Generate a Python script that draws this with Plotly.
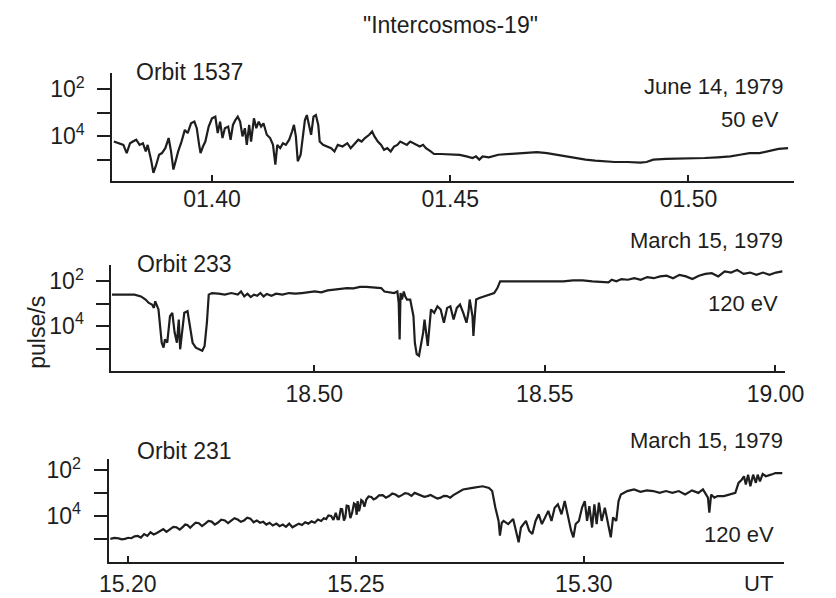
import plotly.graph_objects as go

FONT = "Liberation Sans, Arial, Helvetica, sans-serif"
INK = "#1e1e1e"

# ---------------- data ----------------
# time: minutes after the hour (UT); value: count level in tick units
# (tick 4 = 10^2, tick 2 = 10^4 as printed on the original)

orbit1537 = [  # June 14, 1979, 50 eV, minutes after 01:00
    (37.94, 1.77), (38.04, 1.70), (38.14, 1.63), (38.21, 1.28), (38.28, 1.70), (38.34, 1.77),
    (38.41, 1.85), (38.48, 1.63), (38.55, 1.70), (38.61, 1.35), (38.65, 1.63), (38.72, 1.00),
    (38.77, 0.44), (38.82, 0.72), (38.89, 1.21), (38.95, 1.28), (39.02, 1.49), (39.09, 1.92),
    (39.14, 1.35), (39.19, 0.58), (39.24, 1.00), (39.29, 1.35), (39.36, 1.77), (39.43, 2.27),
    (39.49, 2.13), (39.56, 2.55), (39.63, 2.62), (39.68, 2.34), (39.73, 1.63), (39.76, 1.28),
    (39.81, 1.56), (39.86, 1.77), (39.93, 2.41), (40.00, 2.76), (40.07, 2.83), (40.12, 2.13),
    (40.17, 2.62), (40.22, 1.92), (40.27, 2.34), (40.34, 2.41), (40.39, 1.85), (40.44, 2.48),
    (40.49, 2.69), (40.54, 2.83), (40.59, 2.62), (40.64, 1.99), (40.69, 2.34), (40.73, 1.63),
    (40.78, 2.48), (40.82, 1.77), (40.88, 2.76), (40.93, 2.34), (40.98, 2.62), (41.03, 2.41),
    (41.08, 2.55), (41.15, 2.06), (41.22, 1.92), (41.28, 1.63), (41.33, 0.79), (41.37, 1.63),
    (41.43, 1.49), (41.49, 1.70), (41.55, 1.63), (41.62, 1.85), (41.68, 2.20), (41.72, 2.48),
    (41.76, 1.99), (41.80, 0.93), (41.86, 1.21), (41.91, 2.06), (41.95, 2.69), (41.99, 2.90),
    (42.04, 2.48), (42.08, 2.06), (42.13, 2.83), (42.18, 2.90), (42.23, 2.48), (42.26, 1.77),
    (42.33, 1.63), (42.40, 1.56), (42.50, 1.49), (42.57, 1.35), (42.64, 1.63), (42.74, 1.56),
    (42.84, 1.70), (42.91, 1.49), (42.97, 1.63), (43.07, 1.85), (43.14, 1.77), (43.21, 1.92),
    (43.30, 2.06), (43.36, 2.20), (43.41, 1.99), (43.48, 1.77), (43.55, 1.63), (43.61, 1.42),
    (43.68, 1.49), (43.75, 1.35), (43.82, 1.56), (43.89, 1.63), (43.95, 1.77), (44.02, 1.70),
    (44.09, 1.63), (44.16, 1.77), (44.22, 1.70), (44.29, 1.63), (44.36, 1.56), (44.43, 1.63),
    (44.49, 1.49), (44.59, 1.35), (44.66, 1.24), (44.80, 1.24), (44.93, 1.22), (45.07, 1.20),
    (45.20, 1.20), (45.34, 1.14), (45.47, 1.07), (45.54, 1.14), (45.61, 1.00), (45.68, 1.14),
    (45.81, 1.10), (46.01, 1.21), (46.22, 1.24), (46.42, 1.28), (46.62, 1.28), (46.82, 1.32),
    (47.03, 1.28), (47.23, 1.21), (47.43, 1.14), (47.64, 1.07), (47.84, 1.00), (48.04, 0.96),
    (48.24, 0.93), (48.45, 0.90), (48.72, 0.90), (48.99, 0.87), (49.12, 0.90), (49.26, 1.00),
    (49.53, 1.03), (49.80, 1.04), (50.07, 1.04), (50.34, 1.07), (50.61, 1.10), (50.88, 1.14),
    (51.08, 1.21), (51.28, 1.28), (51.49, 1.28), (51.69, 1.38), (51.89, 1.46), (52.09, 1.49),
]

orbit233 = [  # March 15, 1979, 120 eV, minutes after 18:00
    (45.61, 3.40), (46.10, 3.40), (46.24, 3.32), (46.34, 3.18), (46.41, 3.03), (46.48, 2.96),
    (46.52, 2.81), (46.55, 3.10), (46.62, 2.74), (46.66, 1.85), (46.69, 1.26), (46.73, 1.04),
    (46.76, 1.41), (46.81, 1.26), (46.87, 2.44), (46.92, 2.59), (46.97, 1.71), (47.02, 1.26),
    (47.06, 2.29), (47.09, 0.97), (47.13, 1.85), (47.18, 2.59), (47.25, 2.66), (47.30, 2.00),
    (47.36, 1.26), (47.43, 1.04), (47.50, 0.97), (47.57, 0.90), (47.62, 1.12), (47.67, 2.15),
    (47.71, 3.40), (47.78, 3.47), (47.92, 3.44), (48.06, 3.40), (48.20, 3.47), (48.34, 3.40),
    (48.41, 3.54), (48.48, 3.32), (48.55, 3.44), (48.62, 3.29), (48.69, 3.40), (48.76, 3.35),
    (48.83, 3.47), (48.90, 3.32), (48.97, 3.43), (49.07, 3.35), (49.17, 3.44), (49.31, 3.40),
    (49.45, 3.47), (49.59, 3.44), (49.73, 3.47), (49.87, 3.50), (50.01, 3.54), (50.15, 3.50),
    (50.29, 3.59), (50.43, 3.62), (50.57, 3.65), (50.71, 3.69), (50.85, 3.68), (50.99, 3.74),
    (51.13, 3.74), (51.27, 3.72), (51.45, 3.69), (51.52, 3.54), (51.62, 3.50), (51.73, 3.47),
    (51.80, 3.54), (51.83, 3.03), (51.85, 1.41), (51.87, 3.47), (51.90, 3.18), (51.94, 3.54),
    (51.97, 3.32), (52.01, 3.18), (52.08, 3.18), (52.15, 2.44), (52.18, 1.26), (52.22, 0.75),
    (52.27, 0.68), (52.31, 1.12), (52.36, 1.71), (52.39, 2.29), (52.43, 1.71), (52.46, 1.12),
    (52.53, 2.74), (52.60, 2.59), (52.67, 2.88), (52.74, 2.74), (52.81, 2.15), (52.88, 2.81),
    (52.95, 2.88), (53.02, 2.29), (53.09, 2.81), (53.16, 2.96), (53.23, 2.59), (53.30, 2.15),
    (53.34, 2.59), (53.37, 3.18), (53.43, 2.44), (53.45, 1.56), (53.48, 2.44), (53.51, 3.18),
    (53.58, 3.25), (53.69, 3.32), (53.79, 3.40), (53.90, 3.47), (53.97, 3.69), (54.03, 3.99),
    (54.14, 3.99), (54.35, 3.99), (54.56, 3.99), (54.77, 4.01), (54.98, 3.99), (55.19, 4.01),
    (55.40, 3.99), (55.61, 4.03), (55.82, 4.03), (56.03, 3.99), (56.24, 3.94), (56.38, 3.94),
    (56.45, 4.06), (56.55, 3.99), (56.66, 4.09), (56.80, 4.06), (56.94, 4.13), (57.08, 4.06),
    (57.22, 4.18), (57.36, 4.13), (57.50, 4.21), (57.64, 4.24), (57.78, 4.13), (57.92, 4.28),
    (58.06, 4.21), (58.20, 4.09), (58.34, 4.24), (58.48, 4.32), (58.62, 4.35), (58.76, 4.21),
    (58.90, 4.43), (59.04, 4.38), (59.17, 4.50), (59.31, 4.32), (59.45, 4.38), (59.59, 4.28),
    (59.73, 4.38), (59.87, 4.28), (60.01, 4.38), (60.15, 4.43),
]

orbit231 = [  # March 15, 1979, 120 eV, minutes after 15:00
    (19.62, 0.99), (19.71, 1.03), (19.80, 1.01), (19.87, 0.97), (19.94, 0.99), (20.01, 1.04),
    (20.08, 1.02), (20.15, 1.10), (20.22, 1.12), (20.29, 1.05), (20.36, 1.20), (20.43, 1.12),
    (20.50, 1.28), (20.57, 1.18), (20.64, 1.25), (20.71, 1.34), (20.78, 1.42), (20.85, 1.30),
    (20.93, 1.40), (21.00, 1.52), (21.07, 1.50), (21.14, 1.40), (21.21, 1.52), (21.26, 1.62),
    (21.31, 1.60), (21.37, 1.48), (21.42, 1.58), (21.49, 1.70), (21.56, 1.68), (21.63, 1.55),
    (21.70, 1.66), (21.77, 1.78), (21.84, 1.75), (21.91, 1.62), (21.98, 1.71), (22.05, 1.83),
    (22.13, 1.80), (22.20, 1.68), (22.27, 1.79), (22.34, 1.90), (22.41, 1.84), (22.48, 1.74),
    (22.55, 1.80), (22.62, 1.92), (22.69, 1.88), (22.76, 1.72), (22.83, 1.80), (22.90, 1.70),
    (22.97, 1.74), (23.04, 1.62), (23.11, 1.70), (23.18, 1.58), (23.26, 1.66), (23.33, 1.55),
    (23.40, 1.62), (23.47, 1.52), (23.54, 1.66), (23.61, 1.50), (23.68, 1.58), (23.75, 1.66),
    (23.82, 1.60), (23.89, 1.72), (23.96, 1.66), (24.03, 1.76), (24.10, 1.70), (24.17, 1.84),
    (24.24, 1.78), (24.30, 1.90), (24.35, 1.86), (24.40, 2.02), (24.46, 2.00), (24.51, 1.82),
    (24.56, 2.14), (24.60, 1.86), (24.63, 1.86), (24.67, 2.30), (24.70, 2.29), (24.74, 1.80),
    (24.77, 1.93), (24.80, 2.45), (24.84, 2.43), (24.88, 1.90), (24.92, 2.14), (24.96, 2.55),
    (24.99, 2.51), (25.02, 2.05), (25.04, 2.65), (25.07, 2.20), (25.09, 2.36), (25.12, 2.70),
    (25.15, 2.65), (25.19, 2.40), (25.23, 2.72), (25.28, 2.85), (25.34, 2.83), (25.39, 2.72),
    (25.44, 2.77), (25.51, 2.90), (25.59, 2.91), (25.66, 2.80), (25.73, 2.87), (25.80, 2.98),
    (25.87, 2.94), (25.94, 2.84), (26.01, 2.91), (26.08, 3.00), (26.15, 2.97), (26.22, 2.88),
    (26.29, 3.01), (26.36, 2.95), (26.43, 2.91), (26.50, 2.84), (26.57, 2.87), (26.64, 2.92),
    (26.72, 2.83), (26.79, 2.76), (26.86, 2.80), (26.93, 2.88), (27.00, 2.87), (27.07, 2.80),
    (27.14, 2.91), (27.35, 3.16), (27.56, 3.23), (27.78, 3.30), (27.92, 3.23), (27.99, 3.09),
    (28.06, 2.36), (28.13, 1.78), (28.16, 1.13), (28.20, 1.70), (28.24, 1.78), (28.34, 1.64),
    (28.45, 1.86), (28.52, 1.28), (28.57, 0.84), (28.62, 1.49), (28.73, 1.78), (28.80, 1.35),
    (28.87, 1.20), (28.94, 1.78), (29.01, 2.07), (29.08, 1.64), (29.15, 1.93), (29.22, 2.22),
    (29.29, 1.78), (29.36, 2.36), (29.43, 2.51), (29.51, 2.07), (29.58, 2.65), (29.65, 1.93),
    (29.72, 1.35), (29.77, 1.06), (29.82, 1.64), (29.89, 1.78), (29.96, 2.36), (30.02, 2.65),
    (30.07, 1.78), (30.12, 2.43), (30.18, 1.49), (30.23, 2.51), (30.28, 1.64), (30.33, 2.58),
    (30.39, 1.78), (30.46, 2.36), (30.53, 1.64), (30.59, 1.06), (30.64, 1.93), (30.71, 1.78),
    (30.76, 2.65), (30.81, 2.94), (30.95, 3.09), (31.10, 3.16), (31.24, 3.06), (31.38, 3.12),
    (31.52, 3.09), (31.66, 3.01), (31.80, 3.09), (31.94, 3.01), (32.08, 3.09), (32.22, 2.94),
    (32.37, 3.12), (32.51, 3.01), (32.61, 3.16), (32.72, 2.80), (32.75, 2.14), (32.79, 2.94),
    (32.86, 2.80), (32.93, 2.87), (33.07, 2.87), (33.21, 2.94), (33.32, 3.01), (33.39, 3.45),
    (33.46, 3.59), (33.51, 3.74), (33.55, 3.38), (33.60, 3.81), (33.65, 3.30), (33.71, 3.81),
    (33.77, 3.45), (33.81, 3.81), (33.86, 3.52), (33.92, 3.84), (33.99, 3.74), (34.10, 3.81),
    (34.20, 3.88), (34.35, 3.88),
]

level_tickvals = [2, 4]
level_ticktext = ["10<sup>4</sup>", "10<sup>2</sup>"]
level_minor_ticks = [1, 3]

ut_ticks_1537 = [40, 45, 50]
ut_labels_1537 = ["01.40", "01.45", "01.50"]
ut_ticks_233 = [50, 55, 60]
ut_labels_233 = ["18.50", "18.55", "19.00"]
ut_ticks_231 = [20, 25, 30]
ut_labels_231 = ["15.20", "15.25", "15.30"]

# ---------------- figure ----------------
W, H = 836, 598
panels = [
    dict(data=orbit1537, xr=[37.91, 52.21], yr=[0.08, 4.68],
         xd=[107 / W, 812 / W], yd=[1 - 177 / H, 1 - 68 / H],
         tv=ut_ticks_1537, tt=ut_labels_1537, so=-4),
    dict(data=orbit233, xr=[45.60, 60.21], yr=[-0.01, 4.70],
         xd=[106 / W, 803 / W], yd=[1 - 369 / H, 1 - 262 / H],
         tv=ut_ticks_233, tt=ut_labels_233, so=1),
    dict(data=orbit231, xr=[19.58, 34.39], yr=[-0.04, 4.48],
         xd=[103 / W, 802 / W], yd=[1 - 562 / H, 1 - 458 / H],
         tv=ut_ticks_231, tt=ut_labels_231, so=0),
]

fig = go.Figure()
layout = {}
for i, p in enumerate(panels, start=1):
    sfx = "" if i == 1 else str(i)
    fig.add_trace(go.Scatter(
        x=[d[0] for d in p["data"]], y=[d[1] for d in p["data"]],
        mode="lines", line=dict(color=INK, width=2.2),
        xaxis="x" + sfx, yaxis="y" + sfx, showlegend=False, hoverinfo="skip"))
    layout["xaxis" + sfx] = dict(
        domain=p["xd"], range=p["xr"], anchor="y" + sfx,
        showline=True, linecolor=INK, linewidth=2, mirror=False,
        showgrid=False, zeroline=False,
        ticks="inside", ticklen=6, tickwidth=1.5, tickcolor=INK,
        tickvals=p["tv"], ticktext=p["tt"],
        tickfont=dict(family=FONT, size=23, color=INK), ticklabelstandoff=p["so"])
    layout["yaxis" + sfx] = dict(
        domain=p["yd"], range=p["yr"], anchor="x" + sfx,
        showline=True, linecolor=INK, linewidth=2,
        showgrid=False, zeroline=False,
        ticks="outside", ticklen=13, tickwidth=2, tickcolor=INK,
        tickvals=level_tickvals, ticktext=level_ticktext,
        minor=dict(tickvals=level_minor_ticks, ticks="outside", ticklen=13,
                   tickwidth=2, tickcolor=INK, showgrid=False),
        tickfont=dict(family=FONT, size=23, color=INK), ticklabelstandoff=8)

def ann(text, px, py, xanchor="center", size=22, angle=0):
    return dict(text=text, x=px / W, y=1 - py / H, xref="paper", yref="paper",
                xanchor=xanchor, yanchor="middle", showarrow=False, textangle=angle,
                font=dict(family=FONT, size=size, color=INK))

annotations = [
    ann('"Intercosmos-19"', 457, 19, size=23),
    ann("Orbit 1537", 129, 67, "left", 23),
    ann("June 14, 1979", 803, 81, "right"),
    ann("50 eV", 799, 115, "right"),
    ann("Orbit 233", 130, 261, "left", 23),
    ann("March 15, 1979", 803, 237, "right"),
    ann("120 eV", 798, 301, "right"),
    ann("Orbit 231", 130, 450, "left", 23),
    ann("March 15, 1979", 803, 439, "right"),
    ann("120 eV", 794, 534, "right"),
    ann("UT", 775, 583),
    ann("pulse/s", 29, 330, angle=-90, size=23),
]

fig.update_layout(
    width=W, height=H, margin=dict(l=0, r=0, t=0, b=0),
    paper_bgcolor="white", plot_bgcolor="rgba(0,0,0,0)",
    annotations=annotations, **layout)

fig.write_html("out.html", config={"displayModeBar": False},
               post_script="document.body.style.margin='0';document.body.style.padding='0';")
